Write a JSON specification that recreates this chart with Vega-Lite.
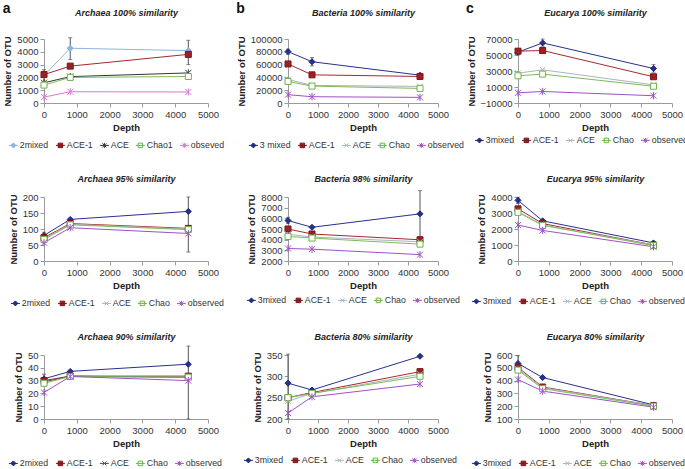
{
"$schema": "https://vega.github.io/schema/vega-lite/v6.json",
"padding": {"left": 2, "top": 2, "right": 2, "bottom": 0},
"columns": 3,
"bounds": "flush",
"spacing": {"row": 94, "column": 80},
"resolve": {"scale": {"color": "independent", "fill": "independent", "stroke": "independent", "shape": "independent"}},
"config": {
  "font": "Liberation Sans",
  "view": {"stroke": null},
  "axis": {"grid": false, "domainColor": "#9a9a9a", "tickColor": "#9a9a9a", "tickSize": 4, "labelColor": "#333333", "labelFontSize": 9.5, "labelPadding": 2, "titleFontSize": 9.5, "titleFontWeight": "bold", "titleColor": "#222222", "titlePadding": 4, "labelFlush": false, "labelOverlap": false},
  "legend": {"orient": "none", "direction": "horizontal", "columns": 5, "gridAlign": "none", "symbolSize": 25, "symbolStrokeWidth": 1, "labelOffset": 2, "columnPadding": 4, "labelFontSize": 8.8, "labelColor": "#333333", "labelFont": "Liberation Sans"},
  "title": {"anchor": "start", "frame": "bounds", "fontSize": 14, "fontWeight": "bold", "color": "#111111", "offset": 0, "dy": 12}
},
"datasets": {
"otu": [
{"panel":"A100","series":"2mixed","depth":0,"otu":2150},{"panel":"A100","series":"2mixed","depth":800,"otu":4280},{"panel":"A100","series":"2mixed","depth":4400,"otu":4090},
{"panel":"A100","series":"ACE-1","depth":0,"otu":2220},{"panel":"A100","series":"ACE-1","depth":800,"otu":2880},{"panel":"A100","series":"ACE-1","depth":4400,"otu":3800},
{"panel":"A100","series":"ACE","depth":0,"otu":1580},{"panel":"A100","series":"ACE","depth":800,"otu":2060},{"panel":"A100","series":"ACE","depth":4400,"otu":2350},
{"panel":"A100","series":"Chao1","depth":0,"otu":1400},{"panel":"A100","series":"Chao1","depth":800,"otu":2000},{"panel":"A100","series":"Chao1","depth":4400,"otu":2070},
{"panel":"A100","series":"obseved","depth":0,"otu":460},{"panel":"A100","series":"obseved","depth":800,"otu":880},{"panel":"A100","series":"obseved","depth":4400,"otu":860},
{"panel":"B100","series":"3 mixed","depth":0,"otu":80300},{"panel":"B100","series":"3 mixed","depth":800,"otu":64500},{"panel":"B100","series":"3 mixed","depth":4400,"otu":43500},
{"panel":"B100","series":"ACE-1","depth":0,"otu":61000},{"panel":"B100","series":"ACE-1","depth":800,"otu":44000},{"panel":"B100","series":"ACE-1","depth":4400,"otu":41500},
{"panel":"B100","series":"ACE","depth":0,"otu":36800},{"panel":"B100","series":"ACE","depth":800,"otu":27500},{"panel":"B100","series":"ACE","depth":4400,"otu":25900},
{"panel":"B100","series":"Chao","depth":0,"otu":33700},{"panel":"B100","series":"Chao","depth":800,"otu":26400},{"panel":"B100","series":"Chao","depth":4400,"otu":22800},
{"panel":"B100","series":"observed","depth":0,"otu":13000},{"panel":"B100","series":"observed","depth":800,"otu":9800},{"panel":"B100","series":"observed","depth":4400,"otu":8800},
{"panel":"E100","series":"3mixed","depth":0,"otu":53600},{"panel":"E100","series":"3mixed","depth":800,"otu":65100},{"panel":"E100","series":"3mixed","depth":4400,"otu":33100},
{"panel":"E100","series":"ACE-1","depth":0,"otu":54800},{"panel":"E100","series":"ACE-1","depth":800,"otu":55600},{"panel":"E100","series":"ACE-1","depth":4400,"otu":22800},
{"panel":"E100","series":"ACE","depth":0,"otu":27300},{"panel":"E100","series":"ACE","depth":800,"otu":31500},{"panel":"E100","series":"ACE","depth":4400,"otu":12600},
{"panel":"E100","series":"Chao","depth":0,"otu":24000},{"panel":"E100","series":"Chao","depth":800,"otu":26100},{"panel":"E100","series":"Chao","depth":4400,"otu":10900},
{"panel":"E100","series":"observed","depth":0,"otu":2700},{"panel":"E100","series":"observed","depth":800,"otu":4400},{"panel":"E100","series":"observed","depth":4400,"otu":-900},
{"panel":"A95","series":"2mixed","depth":0,"otu":80},{"panel":"A95","series":"2mixed","depth":800,"otu":130},{"panel":"A95","series":"2mixed","depth":4400,"otu":155},
{"panel":"A95","series":"ACE-1","depth":0,"otu":73},{"panel":"A95","series":"ACE-1","depth":800,"otu":117},{"panel":"A95","series":"ACE-1","depth":4400,"otu":102},
{"panel":"A95","series":"ACE","depth":0,"otu":70},{"panel":"A95","series":"ACE","depth":800,"otu":115},{"panel":"A95","series":"ACE","depth":4400,"otu":100},
{"panel":"A95","series":"Chao","depth":0,"otu":67},{"panel":"A95","series":"Chao","depth":800,"otu":113},{"panel":"A95","series":"Chao","depth":4400,"otu":98},
{"panel":"A95","series":"observed","depth":0,"otu":57},{"panel":"A95","series":"observed","depth":800,"otu":104},{"panel":"A95","series":"observed","depth":4400,"otu":86},
{"panel":"B98","series":"3mixed","depth":0,"otu":5790},{"panel":"B98","series":"3mixed","depth":800,"otu":5160},{"panel":"B98","series":"3mixed","depth":4400,"otu":6420},
{"panel":"B98","series":"ACE-1","depth":0,"otu":5000},{"panel":"B98","series":"ACE-1","depth":800,"otu":4530},{"panel":"B98","series":"ACE-1","depth":4400,"otu":3990},
{"panel":"B98","series":"ACE","depth":0,"otu":4500},{"panel":"B98","series":"ACE","depth":800,"otu":4250},{"panel":"B98","series":"ACE","depth":4400,"otu":3800},
{"panel":"B98","series":"Chao","depth":0,"otu":4300},{"panel":"B98","series":"Chao","depth":800,"otu":4150},{"panel":"B98","series":"Chao","depth":4400,"otu":3580},
{"panel":"B98","series":"observed","depth":0,"otu":3170},{"panel":"B98","series":"observed","depth":800,"otu":3110},{"panel":"B98","series":"observed","depth":4400,"otu":2600},
{"panel":"E95","series":"3mixed","depth":0,"otu":3790},{"panel":"E95","series":"3mixed","depth":800,"otu":2510},{"panel":"E95","series":"3mixed","depth":4400,"otu":1130},
{"panel":"E95","series":"ACE-1","depth":0,"otu":3260},{"panel":"E95","series":"ACE-1","depth":800,"otu":2340},{"panel":"E95","series":"ACE-1","depth":4400,"otu":1000},
{"panel":"E95","series":"ACE","depth":0,"otu":3100},{"panel":"E95","series":"ACE","depth":800,"otu":2250},{"panel":"E95","series":"ACE","depth":4400,"otu":1000},
{"panel":"E95","series":"Chao","depth":0,"otu":3040},{"panel":"E95","series":"Chao","depth":800,"otu":2230},{"panel":"E95","series":"Chao","depth":4400,"otu":960},
{"panel":"E95","series":"observed","depth":0,"otu":2250},{"panel":"E95","series":"observed","depth":800,"otu":1910},{"panel":"E95","series":"observed","depth":4400,"otu":890},
{"panel":"A90","series":"2mixed","depth":0,"otu":31.4},{"panel":"A90","series":"2mixed","depth":800,"otu":37.2},{"panel":"A90","series":"2mixed","depth":4400,"otu":42.8},
{"panel":"A90","series":"ACE-1","depth":0,"otu":30},{"panel":"A90","series":"ACE-1","depth":800,"otu":33.5},{"panel":"A90","series":"ACE-1","depth":4400,"otu":33.5},
{"panel":"A90","series":"ACE","depth":0,"otu":29},{"panel":"A90","series":"ACE","depth":800,"otu":33.5},{"panel":"A90","series":"ACE","depth":4400,"otu":32.5},
{"panel":"A90","series":"Chao","depth":0,"otu":27.9},{"panel":"A90","series":"Chao","depth":800,"otu":33.2},{"panel":"A90","series":"Chao","depth":4400,"otu":32.7},
{"panel":"A90","series":"observed","depth":0,"otu":20.7},{"panel":"A90","series":"observed","depth":800,"otu":33.2},{"panel":"A90","series":"observed","depth":4400,"otu":30},
{"panel":"B80","series":"3mixed","depth":0,"otu":284},{"panel":"B80","series":"3mixed","depth":800,"otu":268},{"panel":"B80","series":"3mixed","depth":4400,"otu":347},
{"panel":"B80","series":"ACE-1","depth":0,"otu":250},{"panel":"B80","series":"ACE-1","depth":800,"otu":262},{"panel":"B80","series":"ACE-1","depth":4400,"otu":311},
{"panel":"B80","series":"ACE","depth":0,"otu":242},{"panel":"B80","series":"ACE","depth":800,"otu":260},{"panel":"B80","series":"ACE","depth":4400,"otu":305},
{"panel":"B80","series":"Chao","depth":0,"otu":250},{"panel":"B80","series":"Chao","depth":800,"otu":260},{"panel":"B80","series":"Chao","depth":4400,"otu":300},
{"panel":"B80","series":"observed","depth":0,"otu":214},{"panel":"B80","series":"observed","depth":800,"otu":252},{"panel":"B80","series":"observed","depth":4400,"otu":282},
{"panel":"E80","series":"3mixed","depth":0,"otu":534},{"panel":"E80","series":"3mixed","depth":800,"otu":424},{"panel":"E80","series":"3mixed","depth":4400,"otu":210},
{"panel":"E80","series":"ACE-1","depth":0,"otu":503},{"panel":"E80","series":"ACE-1","depth":800,"otu":350},{"panel":"E80","series":"ACE-1","depth":4400,"otu":205},
{"panel":"E80","series":"ACE","depth":0,"otu":490},{"panel":"E80","series":"ACE","depth":800,"otu":345},{"panel":"E80","series":"ACE","depth":4400,"otu":205},
{"panel":"E80","series":"Chao","depth":0,"otu":482},{"panel":"E80","series":"Chao","depth":800,"otu":337},{"panel":"E80","series":"Chao","depth":4400,"otu":200},
{"panel":"E80","series":"observed","depth":0,"otu":408},{"panel":"E80","series":"observed","depth":800,"otu":318},{"panel":"E80","series":"observed","depth":4400,"otu":192}
],
"err": [
{"panel":"A100","depth":0,"lo":1500,"hi":2600},{"panel":"A100","depth":800,"lo":3400,"hi":5100},{"panel":"A100","depth":4400,"lo":3000,"hi":4900},
{"panel":"B100","depth":0,"lo":76000,"hi":84000},{"panel":"B100","depth":800,"lo":58000,"hi":71000},{"panel":"B100","depth":4400,"lo":40000,"hi":46000},
{"panel":"E100","depth":0,"lo":50000,"hi":57000},{"panel":"E100","depth":800,"lo":61000,"hi":70000},{"panel":"E100","depth":4400,"lo":28500,"hi":38000},
{"panel":"A95","depth":0,"lo":65,"hi":90},{"panel":"A95","depth":4400,"lo":28,"hi":200},
{"panel":"B98","depth":0,"lo":5500,"hi":6100},{"panel":"B98","depth":4400,"lo":4300,"hi":8600},
{"panel":"E95","depth":0,"lo":3600,"hi":3980},
{"panel":"A90","depth":0,"lo":28,"hi":35},{"panel":"A90","depth":4400,"lo":0,"hi":57},
{"panel":"B80","depth":0,"lo":200,"hi":352},
{"panel":"E80","depth":0,"lo":495,"hi":595}
]
},
"concat": [
{
 "width": 164, "height": 64,
 "title": {"text": "a"},
 "layer": [
  {"data": {"name": "otu"}, "transform": [{"filter": "datum.panel == 'A100'"}], "mark": {"type": "line", "strokeWidth": 1},
   "encoding": {"x": {"field": "depth", "type": "quantitative", "scale": {"domain": [0, 5000], "nice": false}, "axis": {"values": [0,1000,2000,3000,4000,5000], "format": "d", "title": "Depth"}},
    "y": {"field": "otu", "type": "quantitative", "scale": {"domain": [0, 5000], "nice": false}, "axis": {"values": [0,1000,2000,3000,4000,5000], "format": "d", "title": "Number of OTU"}},
    "color": {"field": "series", "type": "nominal", "scale": {"domain": ["2mixed","ACE-1","ACE","Chao1","obseved"], "range": ["#8DB4E2","#A8282C","#2E3A30","#7DBB5A","#D47AD4"]}, "legend": null}}},
  {"data": {"name": "err"}, "transform": [{"filter": "datum.panel == 'A100'"}], "mark": {"type": "errorbar", "ticks": {"size": 4}, "color": "#555555", "thickness": 1},
   "encoding": {"x": {"field": "depth", "type": "quantitative", "axis": null}, "y": {"field": "lo", "type": "quantitative", "axis": {"values": [0,1000,2000,3000,4000,5000], "format": "d", "title": "Number of OTU"}}, "y2": {"field": "hi"}}},
  {"data": {"name": "otu"}, "transform": [{"filter": "datum.panel == 'A100'"}], "mark": {"type": "point", "filled": true, "size": 36, "strokeWidth": 1, "opacity": 1},
   "encoding": {"x": {"field": "depth", "type": "quantitative", "axis": {"orient": "top", "labels": false, "ticks": false, "domain": false, "title": "Archaea 100% similarity", "titleFontSize": 9, "titleFontStyle": "italic", "titlePadding": 22}},
    "y": {"field": "otu", "type": "quantitative", "axis": {"values": [0,1000,2000,3000,4000,5000], "format": "d", "title": "Number of OTU"}},
    "fill": {"field": "series", "type": "nominal", "scale": {"domain": ["2mixed","ACE-1","ACE","Chao1","obseved"], "range": ["#8DB4E2","#9E1F24","#2E3A30","#FFFFFF","#D47AD4"]}, "legend": null},
    "stroke": {"field": "series", "type": "nominal", "scale": {"domain": ["2mixed","ACE-1","ACE","Chao1","obseved"], "range": ["#8DB4E2","#7A161A","#2E3A30","#6DB34A","#D47AD4"]}, "legend": null},
    "shape": {"field": "series", "type": "nominal", "scale": {"domain": ["2mixed","ACE-1","ACE","Chao1","obseved"], "range": ["diamond","square","M-1,-1L1,1M-1,1L1,-1M0,-1.2V1.2","square","M-1,-1L1,1M-1,1L1,-1M0,-1.2V1.2"]}, "legend": null}}},
  {"data": {"name": "otu"}, "transform": [{"filter": "false"}], "mark": {"type": "point", "filled": true, "opacity": 1, "size": 25},
   "encoding": {
    "fill": {"field": "series", "type": "nominal", "scale": {"domain": ["2mixed","ACE-1","ACE","Chao1","obseved"], "range": ["#8DB4E2","#9E1F24","#2E3A30","#FFFFFF","#D47AD4"]}, "legend": {"title": null, "legendX": -35, "legendY": 102}},
    "stroke": {"field": "series", "type": "nominal", "scale": {"domain": ["2mixed","ACE-1","ACE","Chao1","obseved"], "range": ["#8DB4E2","#7A161A","#2E3A30","#6DB34A","#D47AD4"]}, "legend": {"title": null, "legendX": -35, "legendY": 102}},
    "shape": {"field": "series", "type": "nominal", "scale": {"domain": ["2mixed","ACE-1","ACE","Chao1","obseved"], "range": ["M-1.8,0H1.8M0,-1L1,0L0,1L-1,0Z","M-1.8,0H1.8M-0.9,-0.9H0.9V0.9H-0.9Z","M-1.8,0H1.8M-0.8,-0.8L0.8,0.8M-0.8,0.8L0.8,-0.8M0,-1V1","M-1.8,0H1.8M-0.9,-0.9H0.9V0.9H-0.9Z","M-1.8,0H1.8M-0.8,-0.8L0.8,0.8M-0.8,0.8L0.8,-0.8M0,-1V1"]}, "legend": {"title": null, "legendX": -35, "legendY": 102}}}}
 ],
 "resolve": {"scale": {"fill": "independent", "stroke": "independent", "shape": "independent"}, "axis": {"x": "independent"}}
},
{
 "width": 150, "height": 64,
 "title": {"text": "b"},
 "layer": [
  {"data": {"name": "otu"}, "transform": [{"filter": "datum.panel == 'B100'"}], "mark": {"type": "line", "strokeWidth": 1},
   "encoding": {"x": {"field": "depth", "type": "quantitative", "scale": {"domain": [0, 5000], "nice": false}, "axis": {"values": [0,1000,2000,3000,4000,5000], "format": "d", "title": "Depth"}},
    "y": {"field": "otu", "type": "quantitative", "scale": {"domain": [0, 100000], "nice": false}, "axis": {"values": [0,20000,40000,60000,80000,100000], "format": "d", "title": "Number of OTU"}},
    "color": {"field": "series", "type": "nominal", "scale": {"domain": ["3 mixed","ACE-1","ACE","Chao","observed"], "range": ["#27318D","#A8282C","#A9B4BF","#7DBB5A","#A050C8"]}, "legend": null}}},
  {"data": {"name": "err"}, "transform": [{"filter": "datum.panel == 'B100'"}], "mark": {"type": "errorbar", "ticks": {"size": 4}, "color": "#555555", "thickness": 1},
   "encoding": {"x": {"field": "depth", "type": "quantitative", "axis": null}, "y": {"field": "lo", "type": "quantitative", "axis": {"values": [0,20000,40000,60000,80000,100000], "format": "d", "title": "Number of OTU"}}, "y2": {"field": "hi"}}},
  {"data": {"name": "otu"}, "transform": [{"filter": "datum.panel == 'B100'"}], "mark": {"type": "point", "filled": true, "size": 36, "strokeWidth": 1, "opacity": 1},
   "encoding": {"x": {"field": "depth", "type": "quantitative", "axis": {"orient": "top", "labels": false, "ticks": false, "domain": false, "title": "Bacteria 100% similarity", "titleFontSize": 9, "titleFontStyle": "italic", "titlePadding": 22}},
    "y": {"field": "otu", "type": "quantitative", "axis": {"values": [0,20000,40000,60000,80000,100000], "format": "d", "title": "Number of OTU"}},
    "fill": {"field": "series", "type": "nominal", "scale": {"domain": ["3 mixed","ACE-1","ACE","Chao","observed"], "range": ["#27318D","#9E1F24","#A9B4BF","#FFFFFF","#A050C8"]}, "legend": null},
    "stroke": {"field": "series", "type": "nominal", "scale": {"domain": ["3 mixed","ACE-1","ACE","Chao","observed"], "range": ["#1F2880","#7A161A","#A9B4BF","#6DB34A","#A050C8"]}, "legend": null},
    "shape": {"field": "series", "type": "nominal", "scale": {"domain": ["3 mixed","ACE-1","ACE","Chao","observed"], "range": ["diamond","square","M-1,-1L1,1M-1,1L1,-1","square","M-1,-1L1,1M-1,1L1,-1M0,-1.2V1.2"]}, "legend": null}}},
  {"data": {"name": "otu"}, "transform": [{"filter": "false"}], "mark": {"type": "point", "filled": true, "opacity": 1, "size": 25},
   "encoding": {
    "fill": {"field": "series", "type": "nominal", "scale": {"domain": ["3 mixed","ACE-1","ACE","Chao","observed"], "range": ["#27318D","#9E1F24","#A9B4BF","#FFFFFF","#A050C8"]}, "legend": {"title": null, "legendX": -39, "legendY": 102}},
    "stroke": {"field": "series", "type": "nominal", "scale": {"domain": ["3 mixed","ACE-1","ACE","Chao","observed"], "range": ["#1F2880","#7A161A","#A9B4BF","#6DB34A","#A050C8"]}, "legend": {"title": null, "legendX": -39, "legendY": 102}},
    "shape": {"field": "series", "type": "nominal", "scale": {"domain": ["3 mixed","ACE-1","ACE","Chao","observed"], "range": ["M-1.8,0H1.8M0,-1L1,0L0,1L-1,0Z","M-1.8,0H1.8M-0.9,-0.9H0.9V0.9H-0.9Z","M-1.8,0H1.8M-0.8,-0.8L0.8,0.8M-0.8,0.8L0.8,-0.8","M-1.8,0H1.8M-0.9,-0.9H0.9V0.9H-0.9Z","M-1.8,0H1.8M-0.8,-0.8L0.8,0.8M-0.8,0.8L0.8,-0.8M0,-1V1"]}, "legend": {"title": null, "legendX": -39, "legendY": 102}}}}
 ],
 "resolve": {"scale": {"fill": "independent", "stroke": "independent", "shape": "independent"}, "axis": {"x": "independent"}}
},
{
 "width": 154, "height": 64,
 "title": {"text": "c"},
 "layer": [
  {"data": {"name": "otu"}, "transform": [{"filter": "datum.panel == 'E100'"}], "mark": {"type": "line", "strokeWidth": 1},
   "encoding": {"x": {"field": "depth", "type": "quantitative", "scale": {"domain": [0, 5000], "nice": false}, "axis": {"values": [0,1000,2000,3000,4000,5000], "format": "d", "title": "Depth"}},
    "y": {"field": "otu", "type": "quantitative", "scale": {"domain": [-10000, 70000], "nice": false}, "axis": {"values": [-10000,10000,30000,50000,70000], "format": "d", "title": "Number of OTU"}},
    "color": {"field": "series", "type": "nominal", "scale": {"domain": ["3mixed","ACE-1","ACE","Chao","observed"], "range": ["#27318D","#A8282C","#A9B4BF","#7DBB5A","#A050C8"]}, "legend": null}}},
  {"data": {"name": "err"}, "transform": [{"filter": "datum.panel == 'E100'"}], "mark": {"type": "errorbar", "ticks": {"size": 4}, "color": "#555555", "thickness": 1},
   "encoding": {"x": {"field": "depth", "type": "quantitative", "axis": null}, "y": {"field": "lo", "type": "quantitative", "axis": {"values": [-10000,10000,30000,50000,70000], "format": "d", "title": "Number of OTU"}}, "y2": {"field": "hi"}}},
  {"data": {"name": "otu"}, "transform": [{"filter": "datum.panel == 'E100'"}], "mark": {"type": "point", "filled": true, "size": 36, "strokeWidth": 1, "opacity": 1},
   "encoding": {"x": {"field": "depth", "type": "quantitative", "axis": {"orient": "top", "labels": false, "ticks": false, "domain": false, "title": "Eucarya 100% similarity", "titleFontSize": 9, "titleFontStyle": "italic", "titlePadding": 22}},
    "y": {"field": "otu", "type": "quantitative", "axis": {"values": [-10000,10000,30000,50000,70000], "format": "d", "title": "Number of OTU"}},
    "fill": {"field": "series", "type": "nominal", "scale": {"domain": ["3mixed","ACE-1","ACE","Chao","observed"], "range": ["#27318D","#9E1F24","#A9B4BF","#FFFFFF","#A050C8"]}, "legend": null},
    "stroke": {"field": "series", "type": "nominal", "scale": {"domain": ["3mixed","ACE-1","ACE","Chao","observed"], "range": ["#1F2880","#7A161A","#A9B4BF","#6DB34A","#A050C8"]}, "legend": null},
    "shape": {"field": "series", "type": "nominal", "scale": {"domain": ["3mixed","ACE-1","ACE","Chao","observed"], "range": ["diamond","square","M-1,-1L1,1M-1,1L1,-1","square","M-1,-1L1,1M-1,1L1,-1M0,-1.2V1.2"]}, "legend": null}}},
  {"data": {"name": "otu"}, "transform": [{"filter": "false"}], "mark": {"type": "point", "filled": true, "opacity": 1, "size": 25},
   "encoding": {
    "fill": {"field": "series", "type": "nominal", "scale": {"domain": ["3mixed","ACE-1","ACE","Chao","observed"], "range": ["#27318D","#9E1F24","#A9B4BF","#FFFFFF","#A050C8"]}, "legend": {"title": null, "legendX": -43, "legendY": 97}},
    "stroke": {"field": "series", "type": "nominal", "scale": {"domain": ["3mixed","ACE-1","ACE","Chao","observed"], "range": ["#1F2880","#7A161A","#A9B4BF","#6DB34A","#A050C8"]}, "legend": {"title": null, "legendX": -43, "legendY": 97}},
    "shape": {"field": "series", "type": "nominal", "scale": {"domain": ["3mixed","ACE-1","ACE","Chao","observed"], "range": ["M-1.8,0H1.8M0,-1L1,0L0,1L-1,0Z","M-1.8,0H1.8M-0.9,-0.9H0.9V0.9H-0.9Z","M-1.8,0H1.8M-0.8,-0.8L0.8,0.8M-0.8,0.8L0.8,-0.8","M-1.8,0H1.8M-0.9,-0.9H0.9V0.9H-0.9Z","M-1.8,0H1.8M-0.8,-0.8L0.8,0.8M-0.8,0.8L0.8,-0.8M0,-1V1"]}, "legend": {"title": null, "legendX": -43, "legendY": 97}}}}
 ],
 "resolve": {"scale": {"fill": "independent", "stroke": "independent", "shape": "independent"}, "axis": {"x": "independent"}}
},
{
 "width": 164, "height": 64,
 "layer": [
  {"data": {"name": "otu"}, "transform": [{"filter": "datum.panel == 'A95'"}], "mark": {"type": "line", "strokeWidth": 1},
   "encoding": {"x": {"field": "depth", "type": "quantitative", "scale": {"domain": [0, 5000], "nice": false}, "axis": {"values": [0,1000,2000,3000,4000,5000], "format": "d", "title": "Depth"}},
    "y": {"field": "otu", "type": "quantitative", "scale": {"domain": [0, 200], "nice": false}, "axis": {"values": [0,50,100,150,200], "format": "d", "title": "Number of OTU"}},
    "color": {"field": "series", "type": "nominal", "scale": {"domain": ["2mixed","ACE-1","ACE","Chao","observed"], "range": ["#27318D","#A8282C","#A9B4BF","#7DBB5A","#A050C8"]}, "legend": null}}},
  {"data": {"name": "err"}, "transform": [{"filter": "datum.panel == 'A95'"}], "mark": {"type": "errorbar", "ticks": {"size": 4}, "color": "#555555", "thickness": 1},
   "encoding": {"x": {"field": "depth", "type": "quantitative", "axis": null}, "y": {"field": "lo", "type": "quantitative", "axis": {"values": [0,50,100,150,200], "format": "d", "title": "Number of OTU"}}, "y2": {"field": "hi"}}},
  {"data": {"name": "otu"}, "transform": [{"filter": "datum.panel == 'A95'"}], "mark": {"type": "point", "filled": true, "size": 36, "strokeWidth": 1, "opacity": 1},
   "encoding": {"x": {"field": "depth", "type": "quantitative", "axis": {"orient": "top", "labels": false, "ticks": false, "domain": false, "title": "Archaea 95% similarity", "titleFontSize": 9, "titleFontStyle": "italic", "titlePadding": 14}},
    "y": {"field": "otu", "type": "quantitative", "axis": {"values": [0,50,100,150,200], "format": "d", "title": "Number of OTU"}},
    "fill": {"field": "series", "type": "nominal", "scale": {"domain": ["2mixed","ACE-1","ACE","Chao","observed"], "range": ["#27318D","#9E1F24","#A9B4BF","#FFFFFF","#A050C8"]}, "legend": null},
    "stroke": {"field": "series", "type": "nominal", "scale": {"domain": ["2mixed","ACE-1","ACE","Chao","observed"], "range": ["#1F2880","#7A161A","#A9B4BF","#6DB34A","#A050C8"]}, "legend": null},
    "shape": {"field": "series", "type": "nominal", "scale": {"domain": ["2mixed","ACE-1","ACE","Chao","observed"], "range": ["diamond","square","M-1,-1L1,1M-1,1L1,-1","square","M-1,-1L1,1M-1,1L1,-1M0,-1.2V1.2"]}, "legend": null}}},
  {"data": {"name": "otu"}, "transform": [{"filter": "false"}], "mark": {"type": "point", "filled": true, "opacity": 1, "size": 25},
   "encoding": {
    "fill": {"field": "series", "type": "nominal", "scale": {"domain": ["2mixed","ACE-1","ACE","Chao","observed"], "range": ["#27318D","#9E1F24","#A9B4BF","#FFFFFF","#A050C8"]}, "legend": {"title": null, "legendX": -33, "legendY": 102}},
    "stroke": {"field": "series", "type": "nominal", "scale": {"domain": ["2mixed","ACE-1","ACE","Chao","observed"], "range": ["#1F2880","#7A161A","#A9B4BF","#6DB34A","#A050C8"]}, "legend": {"title": null, "legendX": -33, "legendY": 102}},
    "shape": {"field": "series", "type": "nominal", "scale": {"domain": ["2mixed","ACE-1","ACE","Chao","observed"], "range": ["M-1.8,0H1.8M0,-1L1,0L0,1L-1,0Z","M-1.8,0H1.8M-0.9,-0.9H0.9V0.9H-0.9Z","M-1.8,0H1.8M-0.8,-0.8L0.8,0.8M-0.8,0.8L0.8,-0.8","M-1.8,0H1.8M-0.9,-0.9H0.9V0.9H-0.9Z","M-1.8,0H1.8M-0.8,-0.8L0.8,0.8M-0.8,0.8L0.8,-0.8M0,-1V1"]}, "legend": {"title": null, "legendX": -33, "legendY": 102}}}}
 ],
 "resolve": {"scale": {"fill": "independent", "stroke": "independent", "shape": "independent"}, "axis": {"x": "independent"}}
},
{
 "width": 150, "height": 64,
 "layer": [
  {"data": {"name": "otu"}, "transform": [{"filter": "datum.panel == 'B98'"}], "mark": {"type": "line", "strokeWidth": 1},
   "encoding": {"x": {"field": "depth", "type": "quantitative", "scale": {"domain": [0, 5000], "nice": false}, "axis": {"values": [0,1000,2000,3000,4000,5000], "format": "d", "title": "Depth"}},
    "y": {"field": "otu", "type": "quantitative", "scale": {"domain": [2000, 8000], "nice": false}, "axis": {"values": [2000,3000,4000,5000,6000,7000,8000], "format": "d", "title": "Number of OTU"}},
    "color": {"field": "series", "type": "nominal", "scale": {"domain": ["3mixed","ACE-1","ACE","Chao","observed"], "range": ["#27318D","#A8282C","#A9B4BF","#7DBB5A","#A050C8"]}, "legend": null}}},
  {"data": {"name": "err"}, "transform": [{"filter": "datum.panel == 'B98'"}], "mark": {"type": "errorbar", "ticks": {"size": 4}, "color": "#555555", "thickness": 1},
   "encoding": {"x": {"field": "depth", "type": "quantitative", "axis": null}, "y": {"field": "lo", "type": "quantitative", "axis": {"values": [2000,3000,4000,5000,6000,7000,8000], "format": "d", "title": "Number of OTU"}}, "y2": {"field": "hi"}}},
  {"data": {"name": "otu"}, "transform": [{"filter": "datum.panel == 'B98'"}], "mark": {"type": "point", "filled": true, "size": 36, "strokeWidth": 1, "opacity": 1},
   "encoding": {"x": {"field": "depth", "type": "quantitative", "axis": {"orient": "top", "labels": false, "ticks": false, "domain": false, "title": "Bacteria 98% similarity", "titleFontSize": 9, "titleFontStyle": "italic", "titlePadding": 14}},
    "y": {"field": "otu", "type": "quantitative", "axis": {"values": [2000,3000,4000,5000,6000,7000,8000], "format": "d", "title": "Number of OTU"}},
    "fill": {"field": "series", "type": "nominal", "scale": {"domain": ["3mixed","ACE-1","ACE","Chao","observed"], "range": ["#27318D","#9E1F24","#A9B4BF","#FFFFFF","#A050C8"]}, "legend": null},
    "stroke": {"field": "series", "type": "nominal", "scale": {"domain": ["3mixed","ACE-1","ACE","Chao","observed"], "range": ["#1F2880","#7A161A","#A9B4BF","#6DB34A","#A050C8"]}, "legend": null},
    "shape": {"field": "series", "type": "nominal", "scale": {"domain": ["3mixed","ACE-1","ACE","Chao","observed"], "range": ["diamond","square","M-1,-1L1,1M-1,1L1,-1","square","M-1,-1L1,1M-1,1L1,-1M0,-1.2V1.2"]}, "legend": null}}},
  {"data": {"name": "otu"}, "transform": [{"filter": "false"}], "mark": {"type": "point", "filled": true, "opacity": 1, "size": 25},
   "encoding": {
    "fill": {"field": "series", "type": "nominal", "scale": {"domain": ["3mixed","ACE-1","ACE","Chao","observed"], "range": ["#27318D","#9E1F24","#A9B4BF","#FFFFFF","#A050C8"]}, "legend": {"title": null, "legendX": -41, "legendY": 99}},
    "stroke": {"field": "series", "type": "nominal", "scale": {"domain": ["3mixed","ACE-1","ACE","Chao","observed"], "range": ["#1F2880","#7A161A","#A9B4BF","#6DB34A","#A050C8"]}, "legend": {"title": null, "legendX": -41, "legendY": 99}},
    "shape": {"field": "series", "type": "nominal", "scale": {"domain": ["3mixed","ACE-1","ACE","Chao","observed"], "range": ["M-1.8,0H1.8M0,-1L1,0L0,1L-1,0Z","M-1.8,0H1.8M-0.9,-0.9H0.9V0.9H-0.9Z","M-1.8,0H1.8M-0.8,-0.8L0.8,0.8M-0.8,0.8L0.8,-0.8","M-1.8,0H1.8M-0.9,-0.9H0.9V0.9H-0.9Z","M-1.8,0H1.8M-0.8,-0.8L0.8,0.8M-0.8,0.8L0.8,-0.8M0,-1V1"]}, "legend": {"title": null, "legendX": -41, "legendY": 99}}}}
 ],
 "resolve": {"scale": {"fill": "independent", "stroke": "independent", "shape": "independent"}, "axis": {"x": "independent"}}
},
{
 "width": 154, "height": 64,
 "layer": [
  {"data": {"name": "otu"}, "transform": [{"filter": "datum.panel == 'E95'"}], "mark": {"type": "line", "strokeWidth": 1},
   "encoding": {"x": {"field": "depth", "type": "quantitative", "scale": {"domain": [0, 5000], "nice": false}, "axis": {"values": [0,1000,2000,3000,4000,5000], "format": "d", "title": "Depth"}},
    "y": {"field": "otu", "type": "quantitative", "scale": {"domain": [0, 4000], "nice": false}, "axis": {"values": [0,1000,2000,3000,4000], "format": "d", "title": "Number of OTU"}},
    "color": {"field": "series", "type": "nominal", "scale": {"domain": ["3mixed","ACE-1","ACE","Chao","observed"], "range": ["#27318D","#A8282C","#A9B4BF","#7DBB5A","#A050C8"]}, "legend": null}}},
  {"data": {"name": "err"}, "transform": [{"filter": "datum.panel == 'E95'"}], "mark": {"type": "errorbar", "ticks": {"size": 4}, "color": "#555555", "thickness": 1},
   "encoding": {"x": {"field": "depth", "type": "quantitative", "axis": null}, "y": {"field": "lo", "type": "quantitative", "axis": {"values": [0,1000,2000,3000,4000], "format": "d", "title": "Number of OTU"}}, "y2": {"field": "hi"}}},
  {"data": {"name": "otu"}, "transform": [{"filter": "datum.panel == 'E95'"}], "mark": {"type": "point", "filled": true, "size": 36, "strokeWidth": 1, "opacity": 1},
   "encoding": {"x": {"field": "depth", "type": "quantitative", "axis": {"orient": "top", "labels": false, "ticks": false, "domain": false, "title": "Eucarya 95% similarity", "titleFontSize": 9, "titleFontStyle": "italic", "titlePadding": 14}},
    "y": {"field": "otu", "type": "quantitative", "axis": {"values": [0,1000,2000,3000,4000], "format": "d", "title": "Number of OTU"}},
    "fill": {"field": "series", "type": "nominal", "scale": {"domain": ["3mixed","ACE-1","ACE","Chao","observed"], "range": ["#27318D","#9E1F24","#A9B4BF","#FFFFFF","#A050C8"]}, "legend": null},
    "stroke": {"field": "series", "type": "nominal", "scale": {"domain": ["3mixed","ACE-1","ACE","Chao","observed"], "range": ["#1F2880","#7A161A","#A9B4BF","#6DB34A","#A050C8"]}, "legend": null},
    "shape": {"field": "series", "type": "nominal", "scale": {"domain": ["3mixed","ACE-1","ACE","Chao","observed"], "range": ["diamond","square","M-1,-1L1,1M-1,1L1,-1","square","M-1,-1L1,1M-1,1L1,-1M0,-1.2V1.2"]}, "legend": null}}},
  {"data": {"name": "otu"}, "transform": [{"filter": "false"}], "mark": {"type": "point", "filled": true, "opacity": 1, "size": 25},
   "encoding": {
    "fill": {"field": "series", "type": "nominal", "scale": {"domain": ["3mixed","ACE-1","ACE","Chao","observed"], "range": ["#27318D","#9E1F24","#A9B4BF","#FFFFFF","#A050C8"]}, "legend": {"title": null, "legendX": -46, "legendY": 100}},
    "stroke": {"field": "series", "type": "nominal", "scale": {"domain": ["3mixed","ACE-1","ACE","Chao","observed"], "range": ["#1F2880","#7A161A","#A9B4BF","#6DB34A","#A050C8"]}, "legend": {"title": null, "legendX": -46, "legendY": 100}},
    "shape": {"field": "series", "type": "nominal", "scale": {"domain": ["3mixed","ACE-1","ACE","Chao","observed"], "range": ["M-1.8,0H1.8M0,-1L1,0L0,1L-1,0Z","M-1.8,0H1.8M-0.9,-0.9H0.9V0.9H-0.9Z","M-1.8,0H1.8M-0.8,-0.8L0.8,0.8M-0.8,0.8L0.8,-0.8","M-1.8,0H1.8M-0.9,-0.9H0.9V0.9H-0.9Z","M-1.8,0H1.8M-0.8,-0.8L0.8,0.8M-0.8,0.8L0.8,-0.8M0,-1V1"]}, "legend": {"title": null, "legendX": -46, "legendY": 100}}}}
 ],
 "resolve": {"scale": {"fill": "independent", "stroke": "independent", "shape": "independent"}, "axis": {"x": "independent"}}
},
{
 "width": 164, "height": 64,
 "layer": [
  {"data": {"name": "otu"}, "transform": [{"filter": "datum.panel == 'A90'"}], "mark": {"type": "line", "strokeWidth": 1},
   "encoding": {"x": {"field": "depth", "type": "quantitative", "scale": {"domain": [0, 5000], "nice": false}, "axis": {"values": [0,1000,2000,3000,4000,5000], "format": "d", "title": "Depth"}},
    "y": {"field": "otu", "type": "quantitative", "scale": {"domain": [0, 50], "nice": false}, "axis": {"values": [0,10,20,30,40,50], "format": "d", "title": "Number of OTU"}},
    "color": {"field": "series", "type": "nominal", "scale": {"domain": ["2mixed","ACE-1","ACE","Chao","observed"], "range": ["#27318D","#A8282C","#4A5058","#7DBB5A","#A050C8"]}, "legend": null}}},
  {"data": {"name": "err"}, "transform": [{"filter": "datum.panel == 'A90'"}], "mark": {"type": "errorbar", "ticks": {"size": 4}, "color": "#555555", "thickness": 1},
   "encoding": {"x": {"field": "depth", "type": "quantitative", "axis": null}, "y": {"field": "lo", "type": "quantitative", "axis": {"values": [0,10,20,30,40,50], "format": "d", "title": "Number of OTU"}}, "y2": {"field": "hi"}}},
  {"data": {"name": "otu"}, "transform": [{"filter": "datum.panel == 'A90'"}], "mark": {"type": "point", "filled": true, "size": 36, "strokeWidth": 1, "opacity": 1},
   "encoding": {"x": {"field": "depth", "type": "quantitative", "axis": {"orient": "top", "labels": false, "ticks": false, "domain": false, "title": "Archaea 90% similarity", "titleFontSize": 9, "titleFontStyle": "italic", "titlePadding": 14}},
    "y": {"field": "otu", "type": "quantitative", "axis": {"values": [0,10,20,30,40,50], "format": "d", "title": "Number of OTU"}},
    "fill": {"field": "series", "type": "nominal", "scale": {"domain": ["2mixed","ACE-1","ACE","Chao","observed"], "range": ["#27318D","#9E1F24","#4A5058","#FFFFFF","#A050C8"]}, "legend": null},
    "stroke": {"field": "series", "type": "nominal", "scale": {"domain": ["2mixed","ACE-1","ACE","Chao","observed"], "range": ["#1F2880","#7A161A","#4A5058","#6DB34A","#A050C8"]}, "legend": null},
    "shape": {"field": "series", "type": "nominal", "scale": {"domain": ["2mixed","ACE-1","ACE","Chao","observed"], "range": ["diamond","square","M-1,-1L1,1M-1,1L1,-1M-1,0H1","square","M-1,-1L1,1M-1,1L1,-1M0,-1.2V1.2"]}, "legend": null}}},
  {"data": {"name": "otu"}, "transform": [{"filter": "false"}], "mark": {"type": "point", "filled": true, "opacity": 1, "size": 25},
   "encoding": {
    "fill": {"field": "series", "type": "nominal", "scale": {"domain": ["2mixed","ACE-1","ACE","Chao","observed"], "range": ["#27318D","#9E1F24","#4A5058","#FFFFFF","#A050C8"]}, "legend": {"title": null, "legendX": -35, "legendY": 104}},
    "stroke": {"field": "series", "type": "nominal", "scale": {"domain": ["2mixed","ACE-1","ACE","Chao","observed"], "range": ["#1F2880","#7A161A","#4A5058","#6DB34A","#A050C8"]}, "legend": {"title": null, "legendX": -35, "legendY": 104}},
    "shape": {"field": "series", "type": "nominal", "scale": {"domain": ["2mixed","ACE-1","ACE","Chao","observed"], "range": ["M-1.8,0H1.8M0,-1L1,0L0,1L-1,0Z","M-1.8,0H1.8M-0.9,-0.9H0.9V0.9H-0.9Z","M-1.8,0H1.8M-0.8,-0.8L0.8,0.8M-0.8,0.8L0.8,-0.8","M-1.8,0H1.8M-0.9,-0.9H0.9V0.9H-0.9Z","M-1.8,0H1.8M-0.8,-0.8L0.8,0.8M-0.8,0.8L0.8,-0.8M0,-1V1"]}, "legend": {"title": null, "legendX": -35, "legendY": 104}}}}
 ],
 "resolve": {"scale": {"fill": "independent", "stroke": "independent", "shape": "independent"}, "axis": {"x": "independent"}}
},
{
 "width": 150, "height": 64,
 "layer": [
  {"data": {"name": "otu"}, "transform": [{"filter": "datum.panel == 'B80'"}], "mark": {"type": "line", "strokeWidth": 1},
   "encoding": {"x": {"field": "depth", "type": "quantitative", "scale": {"domain": [0, 5000], "nice": false}, "axis": {"values": [0,1000,2000,3000,4000,5000], "format": "d", "title": "Depth"}},
    "y": {"field": "otu", "type": "quantitative", "scale": {"domain": [200, 350], "nice": false}, "axis": {"values": [200,250,300,350], "format": "d", "title": "Number of OTU"}},
    "color": {"field": "series", "type": "nominal", "scale": {"domain": ["3mixed","ACE-1","ACE","Chao","observed"], "range": ["#27318D","#A8282C","#A9B4BF","#7DBB5A","#A050C8"]}, "legend": null}}},
  {"data": {"name": "err"}, "transform": [{"filter": "datum.panel == 'B80'"}], "mark": {"type": "errorbar", "ticks": {"size": 4}, "color": "#555555", "thickness": 1},
   "encoding": {"x": {"field": "depth", "type": "quantitative", "axis": null}, "y": {"field": "lo", "type": "quantitative", "axis": {"values": [200,250,300,350], "format": "d", "title": "Number of OTU"}}, "y2": {"field": "hi"}}},
  {"data": {"name": "otu"}, "transform": [{"filter": "datum.panel == 'B80'"}], "mark": {"type": "point", "filled": true, "size": 36, "strokeWidth": 1, "opacity": 1},
   "encoding": {"x": {"field": "depth", "type": "quantitative", "axis": {"orient": "top", "labels": false, "ticks": false, "domain": false, "title": "Bacteria 80% similarity", "titleFontSize": 9, "titleFontStyle": "italic", "titlePadding": 14}},
    "y": {"field": "otu", "type": "quantitative", "axis": {"values": [200,250,300,350], "format": "d", "title": "Number of OTU"}},
    "fill": {"field": "series", "type": "nominal", "scale": {"domain": ["3mixed","ACE-1","ACE","Chao","observed"], "range": ["#27318D","#9E1F24","#A9B4BF","#FFFFFF","#A050C8"]}, "legend": null},
    "stroke": {"field": "series", "type": "nominal", "scale": {"domain": ["3mixed","ACE-1","ACE","Chao","observed"], "range": ["#1F2880","#7A161A","#A9B4BF","#6DB34A","#A050C8"]}, "legend": null},
    "shape": {"field": "series", "type": "nominal", "scale": {"domain": ["3mixed","ACE-1","ACE","Chao","observed"], "range": ["diamond","square","M-1,-1L1,1M-1,1L1,-1","square","M-1,-1L1,1M-1,1L1,-1M0,-1.2V1.2"]}, "legend": null}}},
  {"data": {"name": "otu"}, "transform": [{"filter": "false"}], "mark": {"type": "point", "filled": true, "opacity": 1, "size": 25},
   "encoding": {
    "fill": {"field": "series", "type": "nominal", "scale": {"domain": ["3mixed","ACE-1","ACE","Chao","observed"], "range": ["#27318D","#9E1F24","#A9B4BF","#FFFFFF","#A050C8"]}, "legend": {"title": null, "legendX": -44, "legendY": 101}},
    "stroke": {"field": "series", "type": "nominal", "scale": {"domain": ["3mixed","ACE-1","ACE","Chao","observed"], "range": ["#1F2880","#7A161A","#A9B4BF","#6DB34A","#A050C8"]}, "legend": {"title": null, "legendX": -44, "legendY": 101}},
    "shape": {"field": "series", "type": "nominal", "scale": {"domain": ["3mixed","ACE-1","ACE","Chao","observed"], "range": ["M-1.8,0H1.8M0,-1L1,0L0,1L-1,0Z","M-1.8,0H1.8M-0.9,-0.9H0.9V0.9H-0.9Z","M-1.8,0H1.8M-0.8,-0.8L0.8,0.8M-0.8,0.8L0.8,-0.8","M-1.8,0H1.8M-0.9,-0.9H0.9V0.9H-0.9Z","M-1.8,0H1.8M-0.8,-0.8L0.8,0.8M-0.8,0.8L0.8,-0.8M0,-1V1"]}, "legend": {"title": null, "legendX": -44, "legendY": 101}}}}
 ],
 "resolve": {"scale": {"fill": "independent", "stroke": "independent", "shape": "independent"}, "axis": {"x": "independent"}}
},
{
 "width": 154, "height": 64,
 "layer": [
  {"data": {"name": "otu"}, "transform": [{"filter": "datum.panel == 'E80'"}], "mark": {"type": "line", "strokeWidth": 1},
   "encoding": {"x": {"field": "depth", "type": "quantitative", "scale": {"domain": [0, 5000], "nice": false}, "axis": {"values": [0,1000,2000,3000,4000,5000], "format": "d", "title": "Depth"}},
    "y": {"field": "otu", "type": "quantitative", "scale": {"domain": [100, 600], "nice": false}, "axis": {"values": [100,200,300,400,500,600], "format": "d", "title": "Number of OTU"}},
    "color": {"field": "series", "type": "nominal", "scale": {"domain": ["3mixed","ACE-1","ACE","Chao","observed"], "range": ["#27318D","#A8282C","#A9B4BF","#7DBB5A","#A050C8"]}, "legend": null}}},
  {"data": {"name": "err"}, "transform": [{"filter": "datum.panel == 'E80'"}], "mark": {"type": "errorbar", "ticks": {"size": 4}, "color": "#555555", "thickness": 1},
   "encoding": {"x": {"field": "depth", "type": "quantitative", "axis": null}, "y": {"field": "lo", "type": "quantitative", "axis": {"values": [100,200,300,400,500,600], "format": "d", "title": "Number of OTU"}}, "y2": {"field": "hi"}}},
  {"data": {"name": "otu"}, "transform": [{"filter": "datum.panel == 'E80'"}], "mark": {"type": "point", "filled": true, "size": 36, "strokeWidth": 1, "opacity": 1},
   "encoding": {"x": {"field": "depth", "type": "quantitative", "axis": {"orient": "top", "labels": false, "ticks": false, "domain": false, "title": "Eucarya 80% similarity", "titleFontSize": 9, "titleFontStyle": "italic", "titlePadding": 14}},
    "y": {"field": "otu", "type": "quantitative", "axis": {"values": [100,200,300,400,500,600], "format": "d", "title": "Number of OTU"}},
    "fill": {"field": "series", "type": "nominal", "scale": {"domain": ["3mixed","ACE-1","ACE","Chao","observed"], "range": ["#27318D","#9E1F24","#A9B4BF","#FFFFFF","#A050C8"]}, "legend": null},
    "stroke": {"field": "series", "type": "nominal", "scale": {"domain": ["3mixed","ACE-1","ACE","Chao","observed"], "range": ["#1F2880","#7A161A","#A9B4BF","#6DB34A","#A050C8"]}, "legend": null},
    "shape": {"field": "series", "type": "nominal", "scale": {"domain": ["3mixed","ACE-1","ACE","Chao","observed"], "range": ["diamond","square","M-1,-1L1,1M-1,1L1,-1","square","M-1,-1L1,1M-1,1L1,-1M0,-1.2V1.2"]}, "legend": null}}},
  {"data": {"name": "otu"}, "transform": [{"filter": "false"}], "mark": {"type": "point", "filled": true, "opacity": 1, "size": 25},
   "encoding": {
    "fill": {"field": "series", "type": "nominal", "scale": {"domain": ["3mixed","ACE-1","ACE","Chao","observed"], "range": ["#27318D","#9E1F24","#A9B4BF","#FFFFFF","#A050C8"]}, "legend": {"title": null, "legendX": -46, "legendY": 104}},
    "stroke": {"field": "series", "type": "nominal", "scale": {"domain": ["3mixed","ACE-1","ACE","Chao","observed"], "range": ["#1F2880","#7A161A","#A9B4BF","#6DB34A","#A050C8"]}, "legend": {"title": null, "legendX": -46, "legendY": 104}},
    "shape": {"field": "series", "type": "nominal", "scale": {"domain": ["3mixed","ACE-1","ACE","Chao","observed"], "range": ["M-1.8,0H1.8M0,-1L1,0L0,1L-1,0Z","M-1.8,0H1.8M-0.9,-0.9H0.9V0.9H-0.9Z","M-1.8,0H1.8M-0.8,-0.8L0.8,0.8M-0.8,0.8L0.8,-0.8","M-1.8,0H1.8M-0.9,-0.9H0.9V0.9H-0.9Z","M-1.8,0H1.8M-0.8,-0.8L0.8,0.8M-0.8,0.8L0.8,-0.8M0,-1V1"]}, "legend": {"title": null, "legendX": -46, "legendY": 104}}}}
 ],
 "resolve": {"scale": {"fill": "independent", "stroke": "independent", "shape": "independent"}, "axis": {"x": "independent"}}
}
]
}
